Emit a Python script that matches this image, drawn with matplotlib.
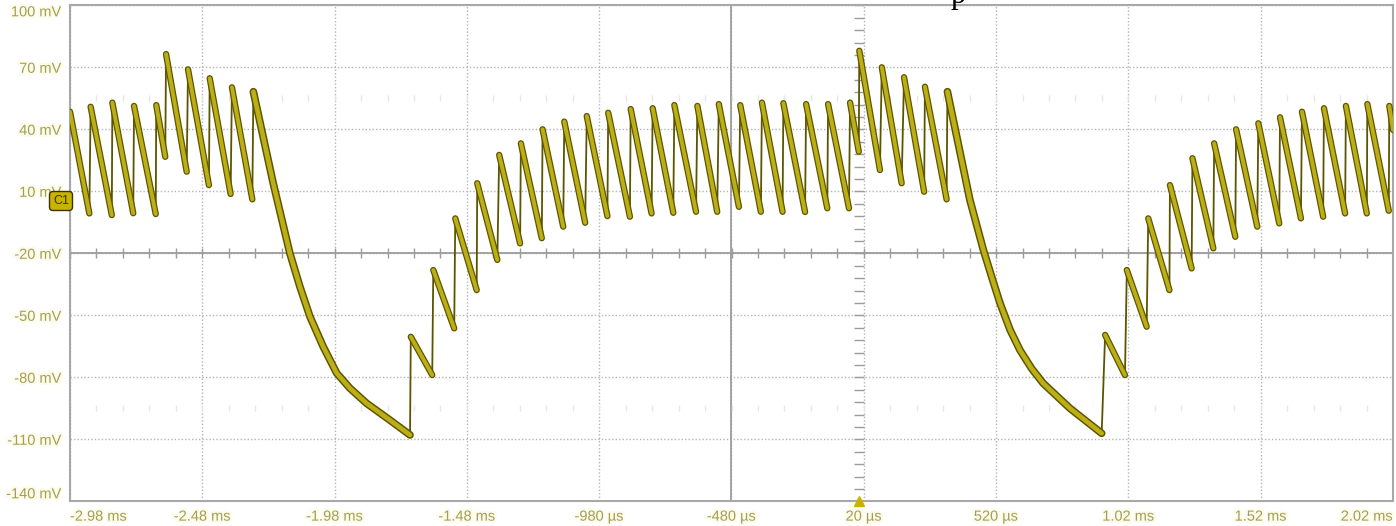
import matplotlib.pyplot as plt
import matplotlib.patheffects as pe
import numpy as np

# trace vertices (time in ms, level in mV)
t_ms = [-2.980, -2.907, -2.902, -2.822, -2.820, -2.741, -2.738, -2.656, -2.654, -2.620,
        -2.617, -2.539, -2.534, -2.455, -2.452, -2.373, -2.368, -2.291, -2.287,
        -2.212, -2.149, -2.111, -2.073, -2.023, -1.972, -1.922, -1.859, -1.771, -1.695,
        -1.692, -1.611, -1.607, -1.528, -1.524, -1.443, -1.441, -1.365, -1.358, -1.279,
        -1.276, -1.197, -1.194, -1.116, -1.112, -1.033, -1.027, -0.949, -0.946, -0.864,
        -0.861, -0.782, -0.778, -0.700, -0.696, -0.614, -0.609, -0.534, -0.528, -0.452,
        -0.447, -0.369, -0.365, -0.287, -0.284, -0.202, -0.198, -0.118, -0.115, -0.036,
        -0.032, 0.001, 0.003, 0.081, 0.088, 0.163, 0.172, 0.248, 0.251, 0.333, 0.336,
        0.421, 0.472, 0.503, 0.535, 0.573, 0.610, 0.654, 0.698, 0.799, 0.919,
        0.932, 1.007, 1.014, 1.089, 1.095, 1.175, 1.177, 1.259, 1.262, 1.341, 1.344,
        1.424, 1.427, 1.507, 1.511, 1.590, 1.593, 1.672, 1.676, 1.756, 1.759, 1.839,
        1.842, 1.921, 1.923, 2.004, 2.006, 2.020]
v_mv = [48.5, -0.7, 50.9, -1.5, 52.9, -0.6, 51.3, -1.0, 51.7, 26.7,
        76.4, 19.5, 69.0, 13.0, 64.7, 8.7, 60.3, 6.1, 58.2,
        13.9, -20.0, -36.2, -50.7, -65.2, -78.0, -85.3, -92.6, -100.7, -107.9,
        -60.4, -78.9, -28.1, -56.3, -3.1, -37.8, 13.9, -23.2, 27.6, -15.2,
        33.2, -12.7, 40.0, -7.1, 43.7, -5.2, 46.4, -2.0, 48.0, -2.3,
        49.8, -0.7, 50.2, -0.4, 51.7, 0.1, 51.3, 0.1, 52.2, 2.5,
        51.7, 0.1, 52.9, 0.1, 52.6, 0.0, 52.2, 1.8, 52.2, 1.8,
        52.9, 29.2, 78.0, 20.3, 70.0, 13.9, 65.2, 9.8, 60.6, 6.1, 58.2,
        5.8, -18.4, -31.3, -44.2, -57.1, -66.8, -75.7, -82.9, -95.0, -107.1,
        -59.5, -78.9, -28.1, -55.5, -3.1, -37.8, 13.0, -27.3, 26.0, -17.6, 33.2,
        -12.0, 40.0, -7.1, 42.9, -5.5, 45.8, -3.1, 48.5, -2.3, 50.2, -0.7,
        51.3, -0.7, 52.2, 0.6, 51.3, 39.7]

x_ticks = [-2.98, -2.48, -1.98, -1.48, -0.98, -0.48, 0.02, 0.52, 1.02, 1.52, 2.02]
x_labels = ['-2.98 ms', '-2.48 ms', '-1.98 ms', '-1.48 ms', '-980 µs', '-480 µs',
            '20 µs', '520 µs', '1.02 ms', '1.52 ms', '2.02 ms']
y_ticks = [-140, -110, -80, -50, -20, 10, 40, 70, 100]
y_labels = ['-140 mV', '-110 mV', '-80 mV', '-50 mV', '-20 mV', '10 mV', '40 mV', '70 mV', '100 mV']

plt.rcParams['font.family'] = ['Liberation Sans', 'DejaVu Sans']

fig = plt.figure(figsize=(13.96, 5.26), dpi=100)
ax = fig.add_axes([70 / 1396, 1 - 501.3 / 526, 1323 / 1396, 496 / 526])
ax.set_xlim(-2.98, 2.02)
ax.set_ylim(-140, 100)

# graticule
ax.set_xticks(x_ticks)
ax.set_xticklabels(x_labels)
ax.set_yticks(y_ticks)
ax.set_yticklabels(y_labels)
ax.grid(True, color='#b4b4b4', linestyle=(0, (1, 1.5)), linewidth=1)
ax.set_axisbelow(True)
for s in ax.spines.values():
    s.set_color('#a8a8a8')
    s.set_linewidth(1.5)

tick_color = '#a39f55'
ax.tick_params(length=0, pad=6, labelsize=10.5, labelcolor=tick_color)
for lab in ax.get_xticklabels() + ax.get_yticklabels():
    lab.set_path_effects([pe.withStroke(linewidth=3, foreground='#fdfbe9')])
ax.get_xticklabels()[0].set_ha('left')
ax.get_xticklabels()[-1].set_ha('right')
ax.get_yticklabels()[0].set_va('bottom')
ax.get_yticklabels()[-1].set_va('top')

# centre cross with minor ticks
ax.axvline(-0.48, color='#9c9c9c', lw=1.3, zorder=1)
ax.axhline(-20, color='#9c9c9c', lw=1.3, zorder=1)
minor_x = np.arange(-2.98, 2.03, 0.1)
minor_y = np.arange(-140, 101, 6)
ax.plot(minor_x, np.full_like(minor_x, -20), ls='none', marker='|', ms=7, color='#9c9c9c', mew=1, zorder=1)
ax.plot(np.full_like(minor_y, -0.48), minor_y, ls='none', marker='_', ms=7, color='#9c9c9c', mew=1, zorder=1)
for lvl in (55, -95):
    ax.plot(minor_x, np.full_like(minor_x, lvl), ls='none', marker='|', ms=4, color='#e6e6e6', mew=1, zorder=1)

# trace: thick band on the falling parts, thin line on the jumps
t = np.array(t_ms)
v = np.array(v_mv)
edge = '#5c5500'
core = '#bcae16'
i = 0
n = len(t)
while i < n - 1:
    if v[i + 1] < v[i]:
        j = i
        while j < n - 1 and v[j + 1] < v[j]:
            j += 1
        wide = 1.0 if j - i < 3 else 1.2
        ax.plot(t[i:j + 1], v[i:j + 1], color=edge, lw=4.6 * wide, solid_capstyle='round',
                solid_joinstyle='round', zorder=3)
        ax.plot(t[i:j + 1], v[i:j + 1], color=core, lw=2.8 * wide, solid_capstyle='round',
                solid_joinstyle='round', zorder=4)
        i = j
    else:
        ax.plot(t[i:i + 2], v[i:i + 2], color=edge, lw=1.3, zorder=2)
        i += 1

# trigger marker and channel tag
ax.plot([0.0], [-140], marker='^', ms=7, color='#c8b400', clip_on=False, zorder=5)
fig.text(61 / 1396, 1 - 201 / 526, 'C1', ha='center', va='center', fontsize=9, color='#3a3500',
         bbox=dict(boxstyle='round,pad=0.28', facecolor='#c8b400', edgecolor='#3a3400', lw=1))

# cut-off caption at the top
fig.text(958 / 1396, 1 - 3 / 526, 'p', ha='center', va='baseline', fontsize=22,
         family='Liberation Serif', color='black')

plt.savefig('out.png', dpi=100)
